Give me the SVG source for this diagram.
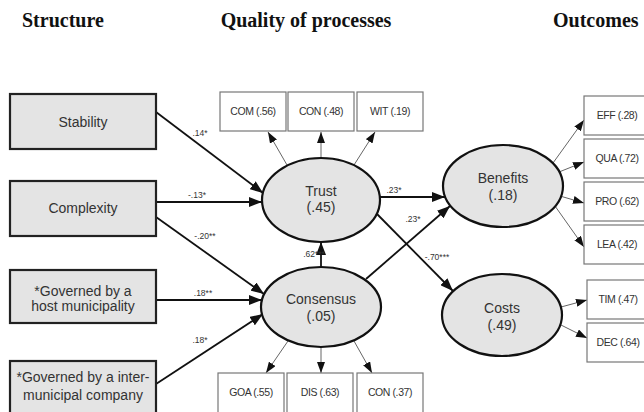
<svg xmlns="http://www.w3.org/2000/svg" width="644" height="412" viewBox="0 0 644 412">
<defs>
<marker id="big" markerUnits="userSpaceOnUse" markerWidth="13" markerHeight="10" refX="13" refY="5" orient="auto"><path d="M0,0 L13,5 L0,10 z" fill="#111"/></marker>
<marker id="small" markerUnits="userSpaceOnUse" markerWidth="11" markerHeight="8" refX="11" refY="4" orient="auto"><path d="M0,0 L11,4 L0,8 z" fill="#111"/></marker>
<style>
.hdr{font-family:"Liberation Serif","Times New Roman",serif;font-weight:bold;font-size:20px;fill:#111}
.sbox{fill:#e4e4e4;stroke:#222;stroke-width:2.2}
.ell{fill:#e4e4e4;stroke:#111;stroke-width:2.2}
.mbox{fill:#fff;stroke:#777;stroke-width:1.2}
.lbl{font-family:"Liberation Sans",Arial,sans-serif;font-size:14px;fill:#333;text-anchor:middle}
.mlbl{font-family:"Liberation Sans",Arial,sans-serif;font-size:10.5px;fill:#333;text-anchor:middle;letter-spacing:-0.4px}
.coef{font-family:"Liberation Sans",Arial,sans-serif;font-size:8.5px;fill:#333;text-anchor:middle}
.path{stroke:#111;stroke-width:1.8;fill:none;marker-end:url(#big)}
.meas{stroke:#666;stroke-width:1;fill:none;marker-end:url(#small)}
</style>
</defs>
<rect width="644" height="412" fill="#fff"/>
<g id="headers">
<text class="hdr" x="22" y="27">Structure</text>
<text class="hdr" x="306" y="27" text-anchor="middle">Quality of processes</text>
<text class="hdr" x="553" y="27">Outcomes</text>
</g>
<g id="connectors">
<line class="path" x1="156" y1="112" x2="263" y2="193"/>
<line class="path" x1="156" y1="202" x2="262" y2="202"/>
<line class="path" x1="156" y1="217" x2="264" y2="294"/>
<line class="path" x1="156" y1="300" x2="262" y2="300"/>
<line class="path" x1="156" y1="384" x2="263" y2="314"/>
<line class="path" x1="321" y1="267" x2="321" y2="242"/>
<line class="path" x1="380" y1="197" x2="445" y2="197"/>
<line class="path" x1="366" y1="279" x2="450" y2="206"/>
<line class="path" x1="377" y1="214" x2="453" y2="291"/>
<line class="meas" x1="287" y1="165" x2="268" y2="132"/>
<line class="meas" x1="321" y1="158" x2="321" y2="132"/>
<line class="meas" x1="354" y1="165" x2="375" y2="132"/>
<line class="meas" x1="288" y1="341" x2="266" y2="373"/>
<line class="meas" x1="321" y1="347" x2="321" y2="373"/>
<line class="meas" x1="354" y1="341" x2="372" y2="373"/>
<line class="meas" x1="553" y1="163" x2="584" y2="120"/>
<line class="meas" x1="559" y1="172" x2="584" y2="162"/>
<line class="meas" x1="560" y1="196" x2="584" y2="203"/>
<line class="meas" x1="555" y1="206" x2="584" y2="247"/>
<line class="meas" x1="561" y1="307" x2="587" y2="300"/>
<line class="meas" x1="559" y1="324" x2="587" y2="338"/>
<text class="coef" x="200" y="136">.14*</text>
<text class="coef" x="197" y="198">-.13*</text>
<text class="coef" x="205" y="239">-.20**</text>
<text class="coef" x="203" y="296">.18**</text>
<text class="coef" x="200" y="343">.18*</text>
<text class="coef" x="314" y="257" text-anchor="end">.62***</text>
<text class="coef" x="394" y="193">.23*</text>
<text class="coef" x="413" y="222">.23*</text>
<text class="coef" x="437" y="260">-.70***</text>
</g>
<g id="stability"><rect class="sbox" x="10" y="94" width="146" height="55"/><text class="lbl" x="83" y="127">Stability</text></g>
<g id="complexity"><rect class="sbox" x="10" y="181" width="146" height="55"/><text class="lbl" x="83" y="213">Complexity</text></g>
<g id="host"><rect class="sbox" x="10" y="270" width="146" height="53"/><text class="lbl" x="83" y="296">*Governed by a</text><text class="lbl" x="83" y="311">host municipality</text></g>
<g id="inter"><rect class="sbox" x="10" y="361" width="146" height="56"/><text class="lbl" x="83" y="382">*Governed by a inter-</text><text class="lbl" x="83" y="400">municipal company</text></g>
<g id="trust"><ellipse class="ell" cx="321" cy="200" rx="59" ry="42"/><text class="lbl" x="321" y="196">Trust</text><text class="lbl" x="321" y="212">(.45)</text></g>
<g id="consensus"><ellipse class="ell" cx="321" cy="307" rx="60" ry="40"/><text class="lbl" x="321" y="304">Consensus</text><text class="lbl" x="321" y="321">(.05)</text></g>
<g id="benefits"><ellipse class="ell" cx="503" cy="186" rx="60" ry="41"/><text class="lbl" x="503" y="183">Benefits</text><text class="lbl" x="503" y="200">(.18)</text></g>
<g id="costs"><ellipse class="ell" cx="502" cy="315" rx="60" ry="41"/><text class="lbl" x="502" y="313">Costs</text><text class="lbl" x="502" y="330">(.49)</text></g>
<g id="com"><rect class="mbox" x="220" y="92" width="66" height="39"/><text class="mlbl" x="253" y="115">COM (.56)</text></g>
<g id="con1"><rect class="mbox" x="288" y="92" width="66" height="39"/><text class="mlbl" x="321" y="115">CON (.48)</text></g>
<g id="wit"><rect class="mbox" x="357" y="92" width="66" height="39"/><text class="mlbl" x="390" y="115">WIT (.19)</text></g>
<g id="goa"><rect class="mbox" x="218" y="373" width="66" height="42"/><text class="mlbl" x="251" y="396">GOA (.55)</text></g>
<g id="dis"><rect class="mbox" x="287" y="373" width="66" height="42"/><text class="mlbl" x="320" y="396">DIS (.63)</text></g>
<g id="con2"><rect class="mbox" x="357" y="373" width="66" height="42"/><text class="mlbl" x="390" y="396">CON (.37)</text></g>
<g id="eff"><rect class="mbox" x="584" y="96" width="66" height="39"/><text class="mlbl" x="617" y="119">EFF (.28)</text></g>
<g id="qua"><rect class="mbox" x="584" y="139" width="66" height="39"/><text class="mlbl" x="617" y="162">QUA (.72)</text></g>
<g id="pro"><rect class="mbox" x="584" y="182" width="66" height="39"/><text class="mlbl" x="617" y="205">PRO (.62)</text></g>
<g id="lea"><rect class="mbox" x="584" y="225" width="66" height="39"/><text class="mlbl" x="617" y="248">LEA (.42)</text></g>
<g id="tim"><rect class="mbox" x="587" y="280" width="66" height="39"/><text class="mlbl" x="618" y="303">TIM (.47)</text></g>
<g id="dec"><rect class="mbox" x="587" y="323" width="66" height="39"/><text class="mlbl" x="618" y="346">DEC (.64)</text></g>
</svg>
